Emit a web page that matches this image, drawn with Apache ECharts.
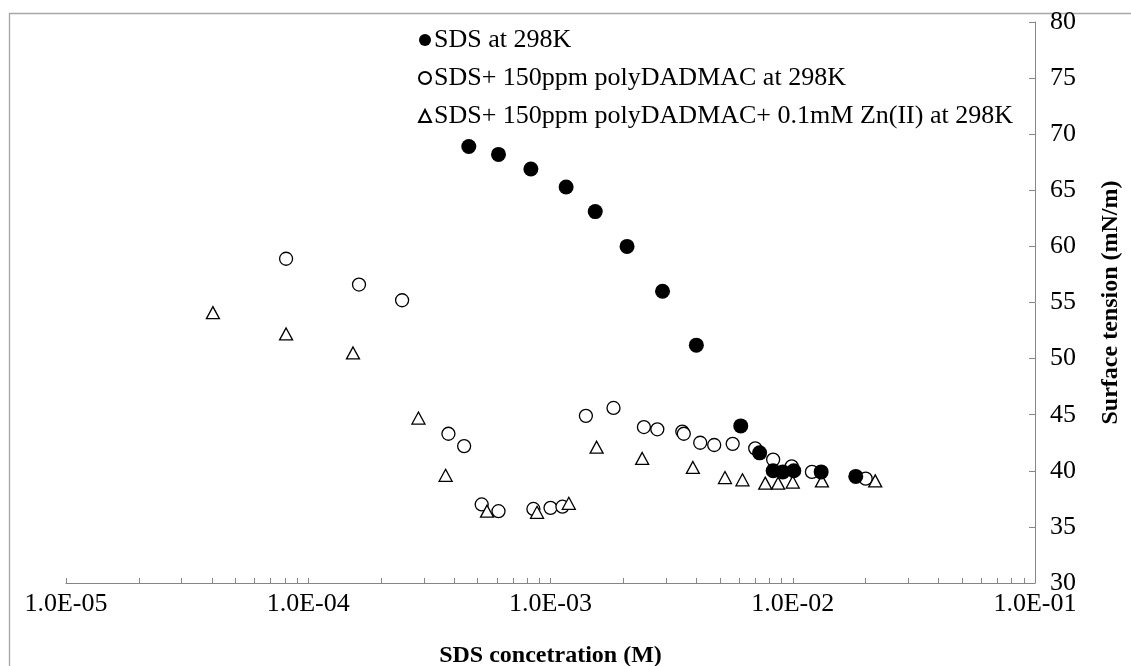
<!DOCTYPE html>
<html>
<head>
<meta charset="utf-8">
<script src="https://cdn.jsdelivr.net/npm/echarts@6/dist/echarts.min.js"></script>
<style>
  html, body { margin: 0; padding: 0; background: #fff; }
  #chart { width: 1131px; height: 666px; }
</style>
</head>
<body>
<div id="chart"></div>
<script>
// ---- data ----
const seriesNames = [
  'SDS at 298K',
  'SDS+ 150ppm polyDADMAC at 298K',
  'SDS+ 150ppm polyDADMAC+ 0.1mM Zn(II) at 298K'
];
const sdsX = [4.6e-4, 6.1e-4, 8.3e-4, 1.16e-3, 1.53e-3, 2.07e-3, 2.9e-3, 4.0e-3, 6.1e-3, 7.3e-3, 8.3e-3, 9.1e-3, 1.01e-2, 1.31e-2, 1.82e-2];
const sdsY = [68.9, 68.2, 66.9, 65.3, 63.1, 60.0, 56.0, 51.2, 44.0, 41.6, 40.0, 39.9, 40.0, 39.9, 39.5];

const polyX = [8.1e-5, 1.62e-4, 2.44e-4, 3.79e-4, 4.40e-4, 5.2e-4, 6.1e-4, 8.5e-4, 1.0e-3, 1.12e-3, 1.40e-3, 1.82e-3, 2.43e-3, 2.76e-3, 3.5e-3, 3.55e-3, 4.15e-3, 4.74e-3, 5.65e-3, 7.0e-3, 8.3e-3, 9.9e-3, 1.2e-2, 2.0e-2];
const polyY = [58.9, 56.6, 55.2, 43.3, 42.2, 37.0, 36.4, 36.6, 36.7, 36.8, 44.9, 45.6, 43.9, 43.7, 43.5, 43.3, 42.5, 42.3, 42.4, 42.0, 41.0, 40.4, 39.9, 39.3];

const znX = [4.04e-5, 8.1e-5, 1.53e-4, 2.85e-4, 3.69e-4, 5.47e-4, 8.8e-4, 1.19e-3, 1.55e-3, 2.39e-3, 3.87e-3, 5.25e-3, 6.2e-3, 7.7e-3, 8.7e-3, 1.0e-2, 1.32e-2, 2.19e-2];
const znY = [54.1, 52.2, 50.5, 44.7, 39.6, 36.4, 36.3, 37.1, 42.1, 41.1, 40.3, 39.4, 39.2, 38.9, 38.9, 39.0, 39.1, 39.1];

const xMin = 1e-5, xMax = 1e-1;
const yMin = 30, yMax = 80, yStep = 5;
const decades = [1e-5, 1e-4, 1e-3, 1e-2, 1e-1];
const minorMultipliers = [1, 2, 3, 4, 5, 6, 7, 8, 9];

// ---- build options ----
const xTickValues = [];
decades.forEach((d, i) => {
  if (i === decades.length - 1) { xTickValues.push(d); return; }
  minorMultipliers.forEach(m => xTickValues.push(m * d));
});

function fmtSci(v) {
  const e = Math.round(Math.log10(v));
  const m = v / Math.pow(10, e);
  const sign = e < 0 ? '-' : '+';
  return m.toFixed(1) + 'E' + sign + String(Math.abs(e)).padStart(2, '0');
}
const zip = (xs, ys) => xs.map((x, i) => [x, ys[i]]);

const FONT = '"Liberation Serif", "DejaVu Serif", serif';
const axisGrey = '#868686';

const chart = echarts.init(document.getElementById('chart'));
chart.setOption({
  animation: false,
  backgroundColor: '#fff',
  textStyle: { fontFamily: FONT, color: '#000' },
  graphic: [{
    type: 'rect', left: 7, top: 11, z: -10,
    shape: { width: 1200, height: 700 },
    style: { fill: 'none', stroke: '#a6a6a6', lineWidth: 1.3 }
  }],
  grid: { left: 66, right: 96, top: 22, bottom: 83, containLabel: false, outerBoundsMode: 'none' },
  legend: {
    orient: 'vertical', left: 413, top: 22, itemGap: 12,
    itemWidth: 12, itemHeight: 12,
    data: seriesNames,
    textStyle: { fontFamily: FONT, fontSize: 26, color: '#000', padding: [0, 0, 0, -2] }
  },
  xAxis: {
    type: 'log', logBase: 10, min: xMin, max: xMax,
    name: 'SDS concetration (M)', nameLocation: 'middle', nameGap: 61,
    nameTextStyle: { fontFamily: FONT, fontSize: 24, fontWeight: 'bold', color: '#000' },
    axisLine: { show: true, lineStyle: { color: axisGrey, width: 1 } },
    axisTick: { show: true, inside: true, length: 5, lineStyle: { color: axisGrey }, customValues: xTickValues },
    axisLabel: {
      fontFamily: FONT, fontSize: 26, color: '#000', margin: 8,
      showMinLabel: true, showMaxLabel: true,
      customValues: decades,
      formatter: fmtSci
    },
    splitLine: { show: false }
  },
  yAxis: {
    type: 'value', position: 'right', min: yMin, max: yMax, interval: yStep,
    name: 'Surface tension (mN/m)', nameLocation: 'middle', nameGap: 64, nameRotate: 90,
    nameTextStyle: { fontFamily: FONT, fontSize: 24, fontWeight: 'bold', color: '#000' },
    axisLine: { show: true, lineStyle: { color: axisGrey, width: 1 } },
    axisTick: { show: true, inside: true, length: 6, lineStyle: { color: axisGrey } },
    axisLabel: { fontFamily: FONT, fontSize: 26, color: '#000', margin: 15 },
    splitLine: { show: false }
  },
  series: [
    {
      name: seriesNames[1], type: 'scatter', data: zip(polyX, polyY),
      symbol: 'circle', symbolSize: 13,
      itemStyle: { color: '#fff', borderColor: '#000', borderWidth: 1.3, opacity: 1 }
    },
    {
      name: seriesNames[2], type: 'scatter', data: zip(znX, znY),
      symbol: 'triangle', symbolSize: [13, 12],
      itemStyle: { color: '#fff', borderColor: '#000', borderWidth: 1.3, opacity: 1 }
    },
    {
      name: seriesNames[0], type: 'scatter', data: zip(sdsX, sdsY),
      symbol: 'circle', symbolSize: 15,
      itemStyle: { color: '#000', opacity: 1 }
    }
  ]
});
</script>
</body>
</html>
